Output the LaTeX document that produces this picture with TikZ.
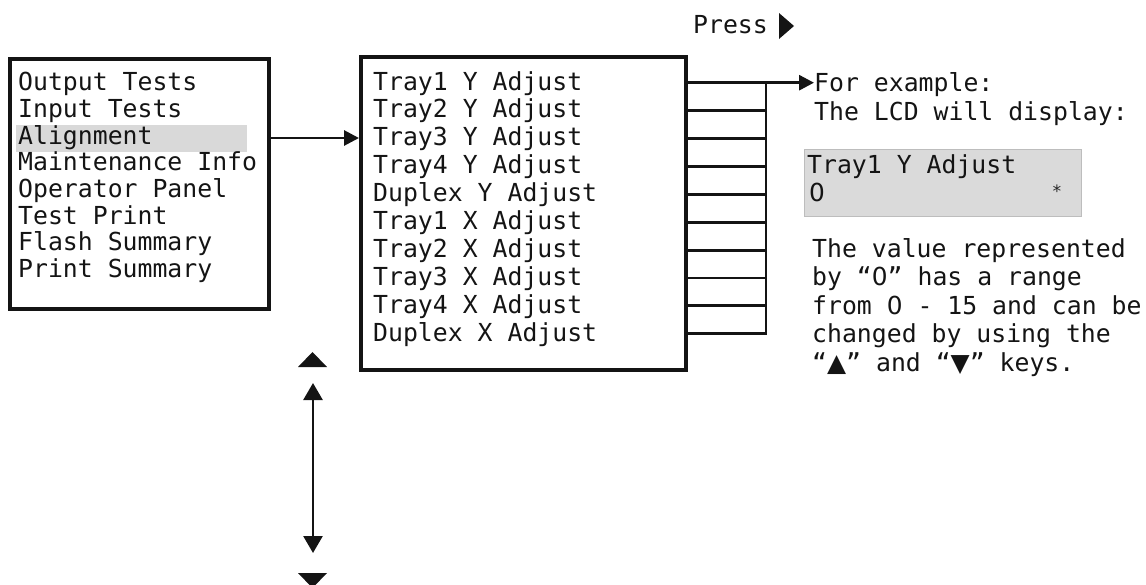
\documentclass[tikz,border=0pt]{standalone}
\usepackage{fontspec}
\usetikzlibrary{arrows.meta}
\newfontfamily\panelfont{DejaVu Sans Mono}
\newfontfamily\symfont{DejaVu Sans}
% plain (undotted) zero
\newcommand{\zd}{{\symfont 0}}
\definecolor{ink}{HTML}{141414}
\definecolor{hilite}{HTML}{D9D9D9}
\definecolor{lcdfill}{HTML}{DADADA}
\definecolor{lcdedge}{HTML}{BDBDBD}
\begin{document}
\begin{tikzpicture}[x=1pt,y=-1pt,
  txt/.style={anchor=base west, inner sep=0pt, text=ink,
    font=\panelfont\fontsize{24.8}{28}\selectfont},
  panel/.style={draw=ink, line width=3.6pt, inner sep=0pt, anchor=north west},
  wire/.style={draw=ink, line width=2.9pt},
  tip/.style={-{Triangle[length=15pt,width=15pt]}}]
\useasboundingbox (0,0) rectangle (1146,584);

% menu frames
\node[panel, minimum width=259pt, minimum height=250pt] (menu) at (8,57) {};
\node[panel, minimum width=325pt, minimum height=313pt] (items) at (359,55) {};

% selected entry
\fill[hilite] (16,125) rectangle (247,152);

% main menu entries
\foreach \t [count=\i from 0] in {Output Tests,Input Tests,Alignment,Maintenance Info,
    Operator Panel,Test Print,Flash Summary,Print Summary}
  \node[txt] (m\i) at (18,{90.7+26.7*\i}) {\t};

% alignment sub-menu entries and their bus
\foreach \t [count=\i from 0] in {Tray1 Y Adjust,Tray2 Y Adjust,Tray3 Y Adjust,
    Tray4 Y Adjust,Duplex Y Adjust,Tray1 X Adjust,Tray2 X Adjust,Tray3 X Adjust,
    Tray4 X Adjust,Duplex X Adjust}{
  \node[txt] (s\i) at (373,{90+27.9*\i}) {\t};
  \coordinate (b\i) at (766,{82.7+27.9*\i});
  \draw[wire] (items.east |- b\i) -- (b\i);
}
\draw[wire, line cap=rect] (b0) -- (b9);

% menu -> sub-menu
\coordinate (sel) at (267,138);
\draw[wire, tip] (menu.east |- sel) -- (items.west |- sel);

% key hint
\node[txt] (press) at (693,33) {Press};
\fill[ink] (779,13) -- (794,26) -- (779,39) -- cycle;

% example text
\node[txt] (ex) at (814,91.7) {For example:};
\node[txt] (lcdnote) at (814,120.5) {The LCD will display:};
\draw[wire, tip] (items.east |- b0) -- (b0 -| ex.west);

% LCD display
\node[draw=lcdedge, fill=lcdfill, line width=1.2pt, inner sep=0pt, anchor=north west,
  minimum width=277pt, minimum height=67pt] (lcd) at (804,149) {};
\node[txt] (lcd1) at (807,173) {Tray1 Y Adjust};
\node[txt] (lcd2) at (809,201.5) {\zd};
\node[anchor=center, inner sep=0pt, text=black!85,
  font=\panelfont\fontsize{17}{17}\selectfont] (star) at (1057,191) {*};

% explanation
\node[txt] (p0) at (812,257) {The value represented};
\node[txt] (p1) at (812,285.5) {by “\zd” has a range};
\node[txt] (p2) at (812,314) {from \zd{} - 15 and can be};
\node[txt] (p3) at (812,342.5) {changed by using the};
\node[txt] (p4) at (812,371) {“{\symfont ▲}” and “{\symfont ▼}” keys.};

% scroll keys
\fill[ink] (298,367) -- (327,367) -- (312.5,352) -- cycle;
\fill[ink] (298,573) -- (327,573) -- (312.5,588) -- cycle;
\coordinate (vtop) at (313,383);
\coordinate (vbot) at (313,553);
\draw[draw=ink, line width=2.6pt,
  {Triangle[length=17pt,width=19pt]}-{Triangle[length=17pt,width=19pt]}] (vtop) -- (vbot);
\end{tikzpicture}
\end{document}
